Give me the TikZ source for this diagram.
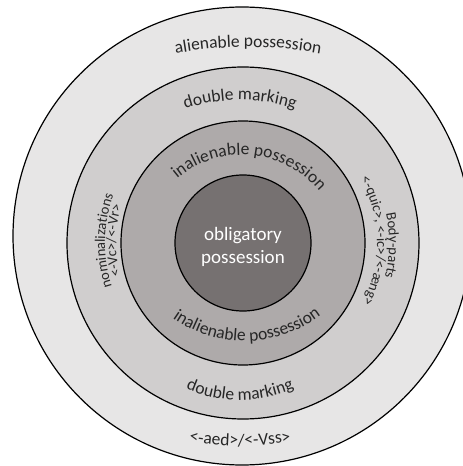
\documentclass[tikz,border=0pt]{standalone}
\usepackage{fontspec}
\setmainfont{Carlito}
\usetikzlibrary{decorations.text}

\definecolor{outerring}{HTML}{E7E6E6}
\definecolor{markring}{HTML}{D0CECE}
\definecolor{inalring}{HTML}{AEAAAA}
\definecolor{coredisc}{HTML}{767171}
\definecolor{labelgray}{HTML}{262626}

\begin{document}
\begin{tikzpicture}[x=1pt, y=1pt,
  ring/.style={draw=black, line width=1.2pt},
  ringtext/.style={decorate, decoration={text along path, text align=center, text color=labelgray, text={#1}}}]

\def \ringsize {\fontsize{17.5}{21}\selectfont}
\def \sidesize {\fontsize{14.5}{17}\selectfont}

\useasboundingbox (-243,-223) rectangle (220,243);
\clip (-243,-223) rectangle (220,243);

\filldraw[ring, fill=outerring] (-1,7) circle[radius=229pt];
\foreach \r/\col in {176/markring, 122/inalring, 68/coredisc}
{
  \filldraw[ring, fill=\col] (0,0) circle[radius=\r pt];
}

\node[text=white, align=center, font=\fontsize{19}{23}\selectfont] (core) at (0,-3.5) {obligatory\\possession};

% upper labels run clockwise, lower ones anticlockwise
\path[ringtext={|\ringsize|alienable possession}] (5,-204) ++(110:400pt) arc[start angle=110, end angle=70, radius=400pt];
\path[ringtext={|\ringsize|double marking}] (-3,-32) ++(130:175pt) arc[start angle=130, end angle=50, radius=175pt];
\path[ringtext={|\ringsize|inalienable possession}] (-1,-13) ++(160:101pt) arc[start angle=160, end angle=10, radius=101pt];
\path[ringtext={|\ringsize|inalienable possession}] (2,28) ++(200:126pt) arc[start angle=200, end angle=342, radius=126pt];
\path[ringtext={|\ringsize|double marking}] (-3,-21) ++(210:136pt) arc[start angle=210, end angle=330, radius=136pt];
\path[ringtext={|\ringsize|<-aed>/<-Vss>}] (-3,97) ++(250:300pt) arc[start angle=250, end angle=290, radius=300pt];

\path[ringtext={|\sidesize|nominalizations}] (0,0) ++(240:138pt) arc[start angle=240, end angle=118, radius=138pt];
\path[ringtext={|\sidesize|<-Vc>/<-Vr>}] (0,0) ++(240:127pt) arc[start angle=240, end angle=118, radius=127pt];
\path[ringtext={|\sidesize|Body-parts}] (0,0) ++(60:146pt) arc[start angle=60, end angle=-62, radius=146pt];
\path[ringtext={|\sidesize|<-quic>, <-ic>/<-æng>}] (0,0) ++(62:134pt) arc[start angle=62, end angle=-60, radius=134pt];

\end{tikzpicture}
\end{document}
